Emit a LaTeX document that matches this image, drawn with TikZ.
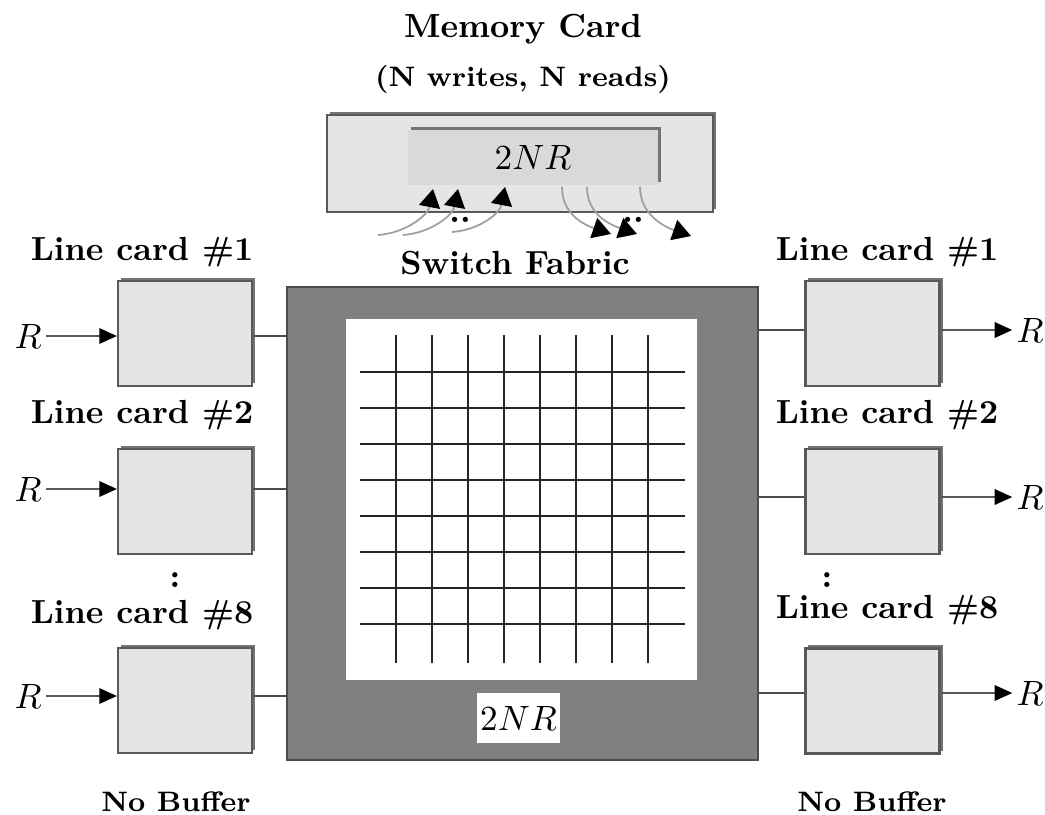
\documentclass[tikz,border=0pt]{standalone}
\usepackage{amssymb}
\usetikzlibrary{shadows,arrows.meta}

\begin{document}
\begin{tikzpicture}[x=0.01cm,y=-0.01cm,
    lbl/.style={font=\bfseries\fontsize{9.5}{11}\selectfont},
    smalllbl/.style={font=\bfseries\fontsize{8}{10}\selectfont},
    shade/.style={general shadow={fill=black!55,shadow xshift=0.03cm,shadow yshift=0.03cm}},
    card/.style={draw=black!65,line width=0.6pt,fill=gray!20,shade,inner sep=0pt,minimum width=1.34cm,minimum height=1.05cm},
    wire/.style={draw=black!70,line width=0.5pt},
    rate/.style={inner sep=1pt},
    inarrow/.style={draw=black!65,line width=0.5pt,-{Triangle[length=5pt,width=4.4pt,color=black]}},
    bendarrow/.style={draw=gray!75,line width=0.5pt,-{Triangle[length=5.2pt,width=6pt,color=black]}}]

    \useasboundingbox (0,0) rectangle (1045,815);

    \node[lbl] (title) at (523,29) {Memory Card};
    \node[smalllbl] (sub) at (523,79) {(N writes, N reads)};
    \node[draw=black!65,line width=0.6pt,fill=gray!20,shade,inner sep=0pt,minimum width=3.86cm,minimum height=0.97cm] (mem) at (520,163.5) {};
    \node[fill=gray!30,shade,inner sep=0pt,minimum width=2.5cm,minimum height=0.55cm] (buf) at (533,157.5) {$2NR$};

    \coordinate (ws1) at (378,235);
    \coordinate (ws2) at (403,235);
    \coordinate (ws3) at (452,232);
    \coordinate (wt1) at (433,189);
    \coordinate (wt2) at (458,189);
    \coordinate (wt3) at (505,187);
    \coordinate (rs1) at (562,187);
    \coordinate (rs2) at (587,187);
    \coordinate (rs3) at (640,187);
    \coordinate (rt1) at (611,234);
    \coordinate (rt2) at (637,234);
    \coordinate (rt3) at (691,236);
    \foreach \i in {1,2,3}
    {
      \draw[bendarrow] (ws\i) .. controls +(28,-2) and +(-5,26) .. (wt\i);
      \draw[bendarrow] (rs\i) .. controls +(0,28) and +(-26,-9) .. (rt\i);
    }
    \node[lbl] (wdots) at (460,220) {..};
    \node[lbl] (rdots) at (633,220) {..};

    \node[lbl] (sfab) at (515,263) {Switch Fabric};
    \node[draw=black!70,fill=gray,inner sep=0pt,minimum width=4.71cm,minimum height=4.73cm] (fab) at (522.5,523.5) {};
    \node[fill=white,inner sep=0pt,minimum width=3.51cm,minimum height=3.61cm] (xbar) at (521.5,499.5) {};
    \foreach \x in {0,1,...,7}
    {
      \draw[black!85,line width=0.6pt] (396+36*\x,335) -- (396+36*\x,663);
      \draw[black!85,line width=0.6pt] (360,372+36*\x) -- (685,372+36*\x);
    }
    \node[fill=white,inner sep=0pt,minimum width=0.83cm,minimum height=0.5cm] (fabrate) at (518.5,718) {$2NR$};

    \foreach \n/\cy/\ty/\ay in {1/333.5/252/336, 2/501.5/415/489, 8/700.5/615/696}
    {
      \node[card] (lc\n) at (185,\cy) {};
      \node[lbl] (lcl\n) at (142,\ty) {Line card \#\n};
      \node[rate] (rin\n) at (28,\ay) {$R$};
      \draw[inarrow] (rin\n) -- (lc\n.west |- rin\n);
      \draw[wire] (lc\n.east |- rin\n) -- (fab.west |- rin\n);
    }
    \foreach \n/\cy/\ty/\ay in {1/333.5/252/330, 2/501.5/415/497, 8/701/610/693}
    {
      \node[card] (rc\n) at (872.5,\cy) {};
      \node[lbl] (rcl\n) at (887,\ty) {Line card \#\n};
      \node[rate] (rout\n) at (1030,\ay) {$R$};
      \draw[inarrow] (rc\n.east |- rout\n) -- (rout\n);
      \draw[wire] (fab.east |- rout\n) -- (rc\n.west |- rout\n);
    }
    \node[lbl] (lvdots) at (175,580) {:};
    \node[lbl] (rvdots) at (827,580) {:};

    \node[smalllbl] (lnobuf) at (176,802) {No Buffer};
    \node[smalllbl] (rnobuf) at (872,802) {No Buffer};
\end{tikzpicture}
\end{document}
